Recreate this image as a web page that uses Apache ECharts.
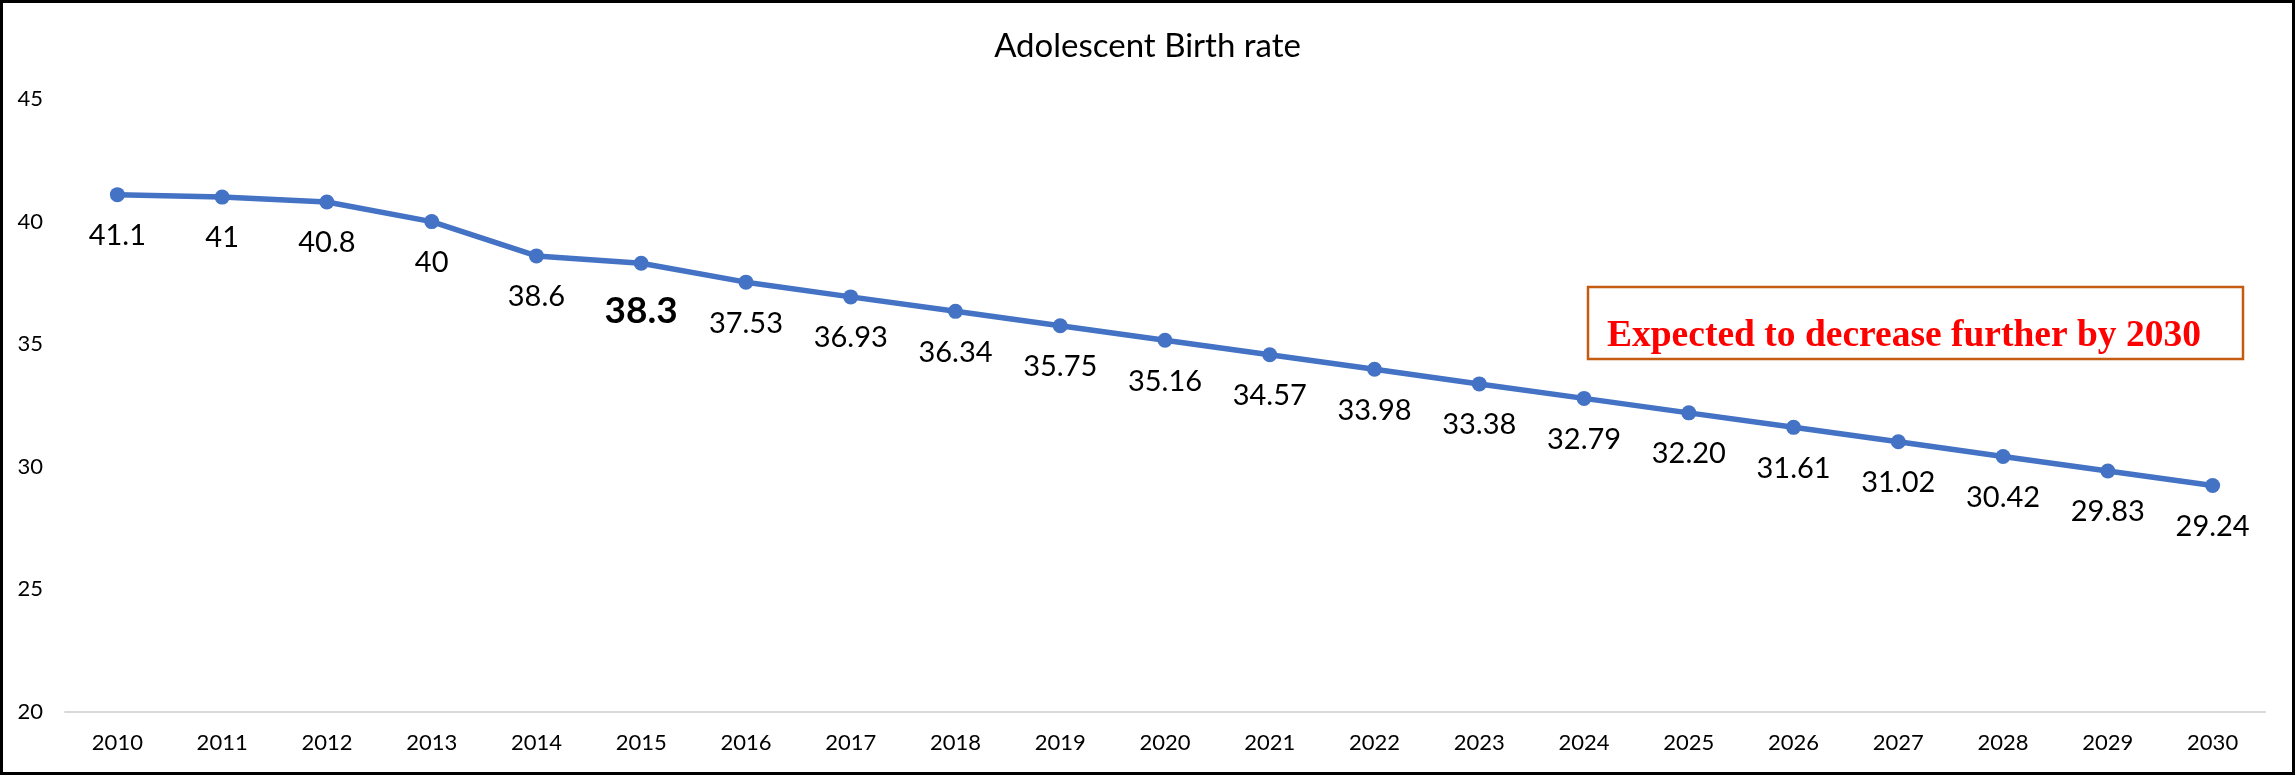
<!DOCTYPE html>
<html>
<head>
<meta charset="utf-8">
<title>Adolescent Birth rate</title>
<script src="https://cdn.jsdelivr.net/npm/echarts@6/dist/echarts.min.js"></script>
<style>
  html, body { margin: 0; padding: 0; background: #fff; }
  #chart { width: 2295px; height: 775px; }
</style>
</head>
<body>
<div id="chart"></div>
<script>
// Adolescent birth rate, observed 2010-2015 and projected 2016-2030
const years = ['2010', '2011', '2012', '2013', '2014', '2015', '2016', '2017', '2018', '2019', '2020',
               '2021', '2022', '2023', '2024', '2025', '2026', '2027', '2028', '2029', '2030'];
const birthRate = [41.1, 41, 40.8, 40, 38.6, 38.3, 37.53, 36.93, 36.34, 35.75, 35.16,
                   34.57, 33.98, 33.38, 32.79, 32.20, 31.61, 31.02, 30.42, 29.83, 29.24];
const yTicks = [20, 25, 30, 35, 40, 45];

const titleText = 'Adolescent Birth rate';
const noteText = 'Expected to decrease further by 2030';
const highlightYear = '2015';   // last observed year, label emphasised
const projectionStart = 6;      // index of the first projected year (2016)

const highlightIndex = years.indexOf(highlightYear);

const chart = echarts.init(document.getElementById('chart'), null, { renderer: 'canvas' });

const seriesData = birthRate.map((v, i) => {
  if (i !== highlightIndex) return v;
  return {
    value: v,
    label: { fontSize: 37, fontWeight: 'bold', distance: 22 }
  };
});

chart.setOption({
  backgroundColor: '#ffffff',
  animation: false,
  title: {
    text: titleText,
    left: 'center',
    top: 30,
    padding: 0,
    textStyle: {
      fontFamily: 'Lato',
      fontSize: 33,
      fontWeight: 'normal',
      color: '#000000',
      lineHeight: 33
    }
  },
  grid: { left: 65, right: 30, top: 99, bottom: 63, containLabel: false },
  xAxis: {
    type: 'category',
    data: years,
    boundaryGap: true,
    axisLine: { show: true, lineStyle: { color: '#d9d9d9', width: 2 } },
    axisTick: { show: false },
    axisLabel: {
      fontFamily: 'Lato',
      fontSize: 22,
      color: '#000000',
      margin: 20,
      interval: 0
    },
    splitLine: { show: false }
  },
  yAxis: {
    type: 'value',
    min: yTicks[0],
    max: yTicks[yTicks.length - 1],
    interval: yTicks[1] - yTicks[0],
    axisLine: { show: false },
    axisTick: { show: false },
    splitLine: { show: false },
    axisLabel: {
      fontFamily: 'Lato',
      fontSize: 22,
      color: '#000000',
      margin: 22
    }
  },
  series: [{
    type: 'line',
    data: seriesData,
    symbol: 'circle',
    symbolSize: 15,
    lineStyle: { color: '#4472C4', width: 5.5 },
    itemStyle: { color: '#4472C4' },
    label: {
      show: true,
      position: 'bottom',
      distance: 19,
      fontFamily: 'Lato',
      fontSize: 29,
      color: '#000000',
      formatter: p => p.dataIndex >= projectionStart ? p.value.toFixed(2) : String(p.value)
    },
    emphasis: { disabled: true }
  }],
  graphic: [
    {
      // outer frame
      type: 'rect',
      shape: { x: 1.5, y: 1.5, width: 2292, height: 772 },
      style: { fill: 'none', stroke: '#000000', lineWidth: 3 },
      silent: true,
      z: 100
    },
    {
      // annotation box
      type: 'rect',
      shape: { x: 1588, y: 287, width: 655, height: 72 },
      style: { fill: '#ffffff', stroke: '#C55A11', lineWidth: 2.5 },
      z: 50
    },
    {
      type: 'text',
      x: 1607,
      y: 336,
      style: {
        text: noteText,
        fontFamily: '"Liberation Serif", "Times New Roman", serif',
        fontSize: 37.5,
        fontWeight: 'bold',
        fill: '#FF0000',
        align: 'left',
        verticalAlign: 'middle'
      },
      z: 51
    }
  ]
});
</script>
</body>
</html>
